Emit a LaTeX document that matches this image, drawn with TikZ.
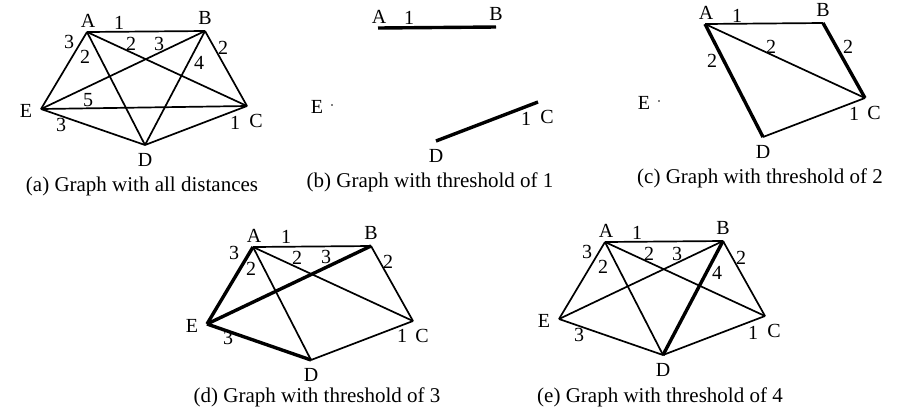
\documentclass[tikz,border=0pt]{standalone}
\usepackage{fontspec}
\setmainfont{Liberation Serif}
\usetikzlibrary{positioning}

% vertices and their letters, same geometry in every panel
\newcommand{\pentagon}{%
  \coordinate (A) at (87,32);
  \coordinate (B) at (205,31);
  \coordinate (C) at (247,106);
  \coordinate (D) at (145,145);
  \coordinate (E) at (41,109);
  \node [vlabel] (lA) at (88,21) {A};
  \node [vlabel] (lB) at (205,18) {B};
  \node [vlabel] (lC) at (256,121) {C};
  \node [vlabel] (lD) at (145,160) {D};
  \node [vlabel] (lE) at (26,111) {E};
}

\begin{document}
\begin{tikzpicture}[
    x=0.5pt, y=-0.5pt,
    line join=round,
    edge/.style={draw, line width=0.85pt},
    bold edge/.style={draw, line width=1.7pt},
    vlabel/.style={font=\fontsize{10}{12}\selectfont, inner sep=0pt},
    weight/.style={font=\fontsize{10}{12}\selectfont, inner sep=0pt},
    caption/.style={font=\fontsize{10.5}{12}\selectfont, anchor=base, inner sep=0pt}
]
    \useasboundingbox (0,0) rectangle (899,414);

    % --- (a) all distances ---
    \begin{scope}[name prefix=a-]
        \pentagon
        \path [edge] (A) -- (B);
        \path [edge] (B) -- (C);
        \path [edge] (C) -- (D);
        \path [edge] (D) -- (E);
        \path [edge] (E) -- (A);
        \path [edge] (A) -- (C);
        \path [edge] (A) -- (D);
        \path [edge] (B) -- (D);
        \path [edge] (B) -- (E);
        \path [edge] (C) -- (E);
        \node [weight] (wAB) at (119,23) {1};
        \node [weight] (wAE) at (69,42) {3};
        \node [weight] (wAD) at (85,57) {2};
        \node [weight] (wAC) at (131,44) {2};
        \node [weight] (wBE) at (159,44) {3};
        \node [weight] (wBD) at (199,63) {4};
        \node [weight] (wBC) at (223,48) {2};
        \node [weight] (wCE) at (88,100) {5};
        \node [weight] (wDE) at (61,125) {3};
        \node [weight] (wCD) at (235,123) {1};
    \end{scope}

    % --- (b) threshold 1 ---
    \begin{scope}[shift={(291,-4)}, name prefix=b-]
        \pentagon
        \path [bold edge] (A) -- (B);
        \path [bold edge] (C) -- (D);
        \fill (E) circle (0.9);
        \node [weight] (wAB) at (118,22) {1};
        \node [weight] (wCD) at (235,123) {1};
    \end{scope}

    % --- (c) threshold 2 ---
    \begin{scope}[shift={(618,-8)}, name prefix=c-]
        \pentagon
        \path [edge] (A) -- (B);
        \path [edge] (A) -- (C);
        \path [edge] (C) -- (D);
        \path [bold edge] (A) -- (D);
        \path [bold edge] (B) -- (C);
        \fill (E) circle (0.9);
        \node [weight] (wAB) at (119,24) {1};
        \node [weight] (wAC) at (153,55) {2};
        \node [weight] (wBC) at (230,55) {2};
        \node [weight] (wAD) at (94,69) {2};
        \node [weight] (wCD) at (236,122) {1};
    \end{scope}

    % --- (d) threshold 3 ---
    \begin{scope}[shift={(166,215)}, name prefix=d-]
        \pentagon
        \path [edge] (A) -- (B);
        \path [edge] (B) -- (C);
        \path [edge] (C) -- (D);
        \path [edge] (A) -- (C);
        \path [edge] (A) -- (D);
        \path [bold edge] (E) -- (A);
        \path [bold edge] (B) -- (E);
        \path [bold edge] (D) -- (E);
        \node [weight] (wAB) at (120,22) {1};
        \node [weight] (wAE) at (68,38) {3};
        \node [weight] (wAD) at (85,54) {2};
        \node [weight] (wAC) at (131,43) {2};
        \node [weight] (wBE) at (160,42) {3};
        \node [weight] (wBC) at (222,47) {2};
        \node [weight] (wDE) at (62,123) {3};
        \node [weight] (wCD) at (236,121) {1};
    \end{scope}

    % --- (e) threshold 4 ---
    \begin{scope}[shift={(518,210)}, name prefix=e-]
        \pentagon
        \path [edge] (A) -- (B);
        \path [edge] (B) -- (C);
        \path [edge] (C) -- (D);
        \path [edge] (D) -- (E);
        \path [edge] (E) -- (A);
        \path [edge] (A) -- (C);
        \path [edge] (A) -- (D);
        \path [edge] (B) -- (E);
        \path [bold edge] (B) -- (D);
        \node [weight] (wAB) at (119,23) {1};
        \node [weight] (wAE) at (69,42) {3};
        \node [weight] (wAD) at (85,57) {2};
        \node [weight] (wAC) at (131,44) {2};
        \node [weight] (wBE) at (159,44) {3};
        \node [weight] (wBD) at (199,63) {4};
        \node [weight] (wBC) at (223,48) {2};
        \node [weight] (wDE) at (61,125) {3};
        \node [weight] (wCD) at (235,123) {1};
    \end{scope}

    % --- captions ---
    \node [caption] (capA) at (142,191) {(a) Graph with all distances};
    \node [caption] (capB) at (430,187) {(b) Graph with threshold of 1};
    \node [caption] (capC) at (760,183) {(c) Graph with threshold of 2};
    \node [caption] (capD) at (317,402) {(d) Graph with threshold of 3};
    \node [caption] (capE) at (660,402) {(e) Graph with threshold of 4};

\end{tikzpicture}
\end{document}
